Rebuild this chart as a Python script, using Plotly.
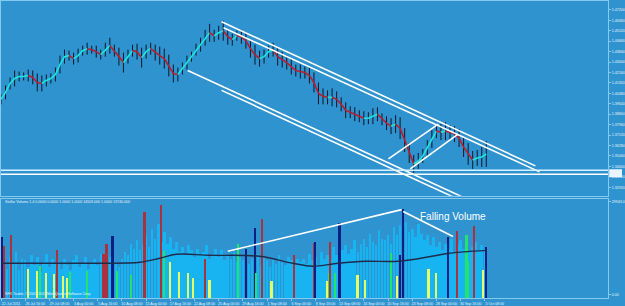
import plotly.graph_objects as go

BG = "#2E93CF"
FRAME = "#86C9EE"

# ---------------- data ----------------
# H4 bars, one price sample every 3 bars
price_step = 3
price = [1.4000, 1.4056, 1.4128, 1.4168, 1.4184, 1.4184, 1.4192, 1.4176, 1.4136, 1.4128,
         1.4152, 1.4168, 1.4200, 1.4280, 1.4344, 1.4352, 1.4328, 1.4352, 1.4392, 1.4408,
         1.4400, 1.4384, 1.4360, 1.4400, 1.4432, 1.4392, 1.4344, 1.4296, 1.4344, 1.4392,
         1.4384, 1.4336, 1.4384, 1.4408, 1.4376, 1.4352, 1.4328, 1.4272, 1.4208, 1.4200,
         1.4248, 1.4296, 1.4344, 1.4400, 1.4440, 1.4496, 1.4536, 1.4512, 1.4536, 1.4552,
         1.4504, 1.4480, 1.4512, 1.4504, 1.4472, 1.4408, 1.4360, 1.4328, 1.4344, 1.4384,
         1.4400, 1.4344, 1.4320, 1.4296, 1.4264, 1.4232, 1.4224, 1.4216, 1.4192, 1.4136,
         1.4048, 1.4024, 1.4016, 1.4016, 1.4000, 1.3960, 1.3912, 1.3896, 1.3880, 1.3864,
         1.3848, 1.3848, 1.3864, 1.3880, 1.3840, 1.3808, 1.3784, 1.3800, 1.3768, 1.3672,
         1.3568, 1.3480, 1.3504, 1.3544, 1.3608, 1.3680, 1.3744, 1.3736, 1.3744, 1.3736,
         1.3720, 1.3688, 1.3616, 1.3560, 1.3512, 1.3528, 1.3536, 1.3560]
wick = [0.0040, 0.0056, 0.0048, 0.0064, 0.0040, 0.0032, 0.0048, 0.0056, 0.0072, 0.0064,
        0.0048, 0.0040, 0.0056, 0.0072, 0.0056, 0.0040, 0.0048, 0.0056, 0.0040, 0.0048,
        0.0032, 0.0048, 0.0040, 0.0056, 0.0064, 0.0048, 0.0072, 0.0080, 0.0056, 0.0048,
        0.0064, 0.0080, 0.0056, 0.0048, 0.0064, 0.0072, 0.0080, 0.0088, 0.0072, 0.0056,
        0.0048, 0.0056, 0.0040, 0.0048, 0.0056, 0.0064, 0.0072, 0.0048, 0.0056, 0.0080,
        0.0064, 0.0048, 0.0040, 0.0056, 0.0064, 0.0072, 0.0080, 0.0064, 0.0056, 0.0048,
        0.0056, 0.0072, 0.0064, 0.0056, 0.0064, 0.0048, 0.0056, 0.0048, 0.0064, 0.0080,
        0.0088, 0.0064, 0.0056, 0.0072, 0.0064, 0.0056, 0.0064, 0.0048, 0.0056, 0.0048,
        0.0056, 0.0048, 0.0064, 0.0056, 0.0048, 0.0056, 0.0064, 0.0072, 0.0088, 0.0096,
        0.0080, 0.0072, 0.0064, 0.0056, 0.0064, 0.0072, 0.0056, 0.0064, 0.0072, 0.0056,
        0.0064, 0.0072, 0.0080, 0.0088, 0.0072, 0.0064, 0.0080, 0.0104]

# channel / trend lines drawn on the price pane: (bar0, price0, bar1, price1)
channel_lines = [
    (145.9, 1.4624, 353.5, 1.3464),
    (147.2, 1.4576, 356.2, 1.3416),
    (123.5, 1.4232, 322.0, 1.3120),
    (145.9, 1.4072, 322.0, 1.3086),
    (256.3, 1.3520, 289.2, 1.3800),
    (270.7, 1.3440, 302.3, 1.3720),
]
hlines = [1.3428, 1.3396]
hline_colors = ["#D6F1FF", "#FFFFFF"]

# volume, one bar every 2 H4 bars
vol_step = 2
vol = [11000, 13500, 9000, 12500, 10500, 14000, 8500, 12000, 11500, 9500,
       13000, 10000, 12500, 8000, 11000, 13500, 9500, 12000, 10500, 11000,
       9000, 12000, 10000, 8500, 11500, 13000, 9500, 10500, 12500, 9000,
       11000, 12000, 10000, 13500, 9500, 11500, 12500, 10000, 11000, 9500,
       12000, 14000, 13000, 16500, 15000, 17500, 14500, 16000, 19000, 15500,
       21000, 18000, 22500, 17000, 20000, 16500, 18500, 15000, 17000, 14000,
       15500, 13500, 16000, 14500, 12500, 15000, 13000, 14000, 16000, 12000,
       13500, 15000, 12500, 14500, 11500, 13000, 12000, 14000, 11000, 12500,
       11500, 13000, 10500, 12000, 11000, 13500, 10000, 12500, 11500, 9500,
       12000, 10500, 13000, 11000, 10000, 12500, 11500, 10500, 12000, 11000,
       12000, 10500, 13500, 11500, 12500, 10000, 14000, 12000, 13000, 11500,
       15500, 13000, 12000, 14500, 16000, 13500, 15000, 17500, 14000, 16500,
       18000, 15500, 19500, 17000, 16000, 20500, 18000, 17500, 19000, 16500,
       21500, 19000, 22000, 18500, 23000, 20000, 21000, 18500, 22500, 19500,
       17500, 19000, 16000, 18500, 15500, 17000, 14500, 16500, 15000, 18000,
       14000, 16000, 17500, 15000, 16500, 14000, 15500, 17000, 14500, 16000, 15000]

# highlighted volume bars: bar index, volume, kind
hi_idx = [1, 2, 7, 18, 24, 26, 30, 35, 37, 41, 44, 46, 57, 68, 70, 74, 77, 86, 95, 106,
          108, 112, 118, 124, 127, 135, 138, 157, 162, 168, 169, 173, 179, 194, 207, 208,
          216, 217, 218, 221, 224, 236, 241, 258, 262, 264, 266, 283, 288, 296, 302, 308,
          309, 313, 319, 321]
hi_vol = [18600, 15900, 19200, 9000, 8400, 9900, 7500, 7200, 14700, 6600, 6000, 8100, 8400,
          13500, 16500, 18900, 8400, 6900, 26100, 28200, 14400, 11100, 8100, 7500, 6000,
          12000, 5400, 16500, 15000, 21300, 7500, 24000, 5100, 13200, 16800, 17100, 5100,
          7500, 17100, 7500, 22800, 6900, 5400, 13800, 6600, 13200, 27000, 9000, 7800,
          18600, 20400, 19200, 11400, 21900, 8700, 15600]
hi_kind = ["b", "r", "r", "y", "y", "g", "y", "y", "r", "y", "y", "g", "g", "r", "r", "b",
           "g", "g", "r", "r", "g", "y", "y", "y", "y", "r", "y", "g", "b", "b", "g", "r",
           "y", "r", "r", "b", "y", "g", "r", "g", "b", "y", "y", "g", "y", "b", "b", "y",
           "y", "b", "r", "g", "g", "r", "y", "b"]
kind_color = {"r": "#A8323E", "b": "#0B1E86", "g": "#22E46A", "y": "#E2FF6A"}

# volume moving average
ma_idx = [0, 33, 66, 92, 105, 116, 138, 171, 193, 206, 223, 241, 263, 285, 296, 321]
ma_val = [10500, 10500, 10500, 10800, 12000, 13200, 12900, 12600, 10500, 9600,
          10500, 11100, 11100, 12600, 13500, 14400]

# trend lines on volume: (bar0, vol0, bar1, vol1)
vol_lines = [(150, 14100, 265, 26700), (266, 26100, 299, 18600)]

x_labels = ["22 Jul 2011", "26 Jul 16:00", "29 Jul 08:00", "3 Aug 00:00", "5 Aug 16:00",
            "10 Aug 08:00", "15 Aug 00:00", "17 Aug 16:00", "22 Aug 08:00", "25 Aug 00:00",
            "29 Aug 16:00", "1 Sep 08:00", "6 Sep 00:00", "8 Sep 16:00", "13 Sep 08:00",
            "16 Sep 00:00", "20 Sep 16:00", "23 Sep 08:00", "28 Sep 00:00", "30 Sep 16:00",
            "5 Oct 08:00"]
label_step = 16
price_ticks = [1.47200, 1.46360, 1.45520, 1.44680, 1.43840, 1.43000, 1.42160, 1.41320,
               1.40480, 1.39640, 1.38800, 1.37960, 1.37120, 1.36280, 1.35440, 1.34600,
               1.33760, 1.32920]

# ---------------- figure ----------------
fig = go.Figure()
px_x = [i * price_step for i in range(len(price))]

# candle wicks
fig.add_trace(go.Scatter(
    x=px_x, y=price, mode="markers", xaxis="x", yaxis="y",
    marker=dict(size=1, color="rgba(0,0,0,0)"),
    error_y=dict(type="data", array=wick, visible=True, color="#0A1726",
                 thickness=1, width=0),
    showlegend=False, hoverinfo="skip"))

# coloured price line (cyan rising, red falling)
runs = []
start = 0
def direction(i):
    return price[i + 1] >= price[i]
for i in range(1, len(price) - 1):
    if direction(i) != direction(start):
        runs.append((start, i, direction(start)))
        start = i
runs.append((start, len(price) - 1, direction(start)))
for a, b, up in runs:
    fig.add_trace(go.Scatter(
        x=px_x[a:b + 1], y=price[a:b + 1], mode="lines", xaxis="x", yaxis="y",
        line=dict(color="#1CE6E0" if up else "#B81E32", width=1.6),
        showlegend=False, hoverinfo="skip"))

for x0, y0, x1, y1 in channel_lines:
    fig.add_trace(go.Scatter(x=[x0, x1], y=[y0, y1], mode="lines", xaxis="x", yaxis="y",
                             line=dict(color="white", width=1.6),
                             showlegend=False, hoverinfo="skip"))

# volume bars
fig.add_trace(go.Bar(x=[k * vol_step for k in range(len(vol))], y=vol,
                     xaxis="x2", yaxis="y2", width=1.7,
                     marker=dict(color="#18B4F2", line=dict(width=0)),
                     showlegend=False, hoverinfo="skip"))
fig.add_trace(go.Bar(x=hi_idx, y=hi_vol, xaxis="x2", yaxis="y2", width=1.2,
                     marker=dict(color=[kind_color[k] for k in hi_kind], line=dict(width=0)),
                     showlegend=False, hoverinfo="skip"))
fig.add_trace(go.Scatter(x=ma_idx, y=ma_val, mode="lines", xaxis="x2", yaxis="y2",
                         line=dict(color="#1E2C4C", width=1.4, shape="spline"),
                         showlegend=False, hoverinfo="skip"))
for x0, y0, x1, y1 in vol_lines:
    fig.add_trace(go.Scatter(x=[x0, x1], y=[y0, y1], mode="lines", xaxis="x2", yaxis="y2",
                             line=dict(color="white", width=1.6),
                             showlegend=False, hoverinfo="skip"))

shapes = []
for h, c in zip(hlines, hline_colors):
    shapes.append(dict(type="line", xref="paper", yref="y", x0=0, x1=1.0, y0=h, y1=h,
                       line=dict(color=c, width=1.5)))
shapes.append(dict(type="rect", xref="paper", yref="y", x0=1.002, x1=1.023,
                   y0=1.3372, y1=1.3436, fillcolor="#EAF6FF", line=dict(width=0)))

xr = [0, 401.5]
small = dict(family="Liberation Sans, Arial", size=3.6, color="#EAF4FB")
fig.update_layout(
    width=625, height=306,
    margin=dict(l=0, r=14, t=0, b=6),
    paper_bgcolor=BG, plot_bgcolor=BG,
    barmode="overlay", bargap=0,
    showlegend=False,
    shapes=shapes,
    xaxis=dict(domain=[0, 1], range=xr, anchor="y", matches="x2", showticklabels=False,
               showgrid=False, zeroline=False, showline=True, mirror=True,
               linecolor=FRAME, linewidth=1, ticks=""),
    yaxis=dict(domain=[0.3433, 0.9967], range=[1.3224, 1.4792], side="right",
               tickvals=price_ticks, tickformat=".5f", tickfont=small,
               ticks="outside", ticklen=2, tickcolor=FRAME,
               showgrid=False, zeroline=False, showline=True, mirror=True,
               linecolor=FRAME, linewidth=1),
    xaxis2=dict(domain=[0, 1], range=xr, anchor="y2",
                tickvals=[k * label_step for k in range(len(x_labels))], ticktext=x_labels,
                tickfont=small, ticks="outside", ticklen=2, tickcolor=FRAME,
                ticklabelshift=10, ticklabelstandoff=0,
                showgrid=False, zeroline=False, showline=True, mirror=True,
                linecolor=FRAME, linewidth=1),
    yaxis2=dict(domain=[0, 0.3333], range=[0, 30000], side="right",
                tickvals=[29000, 1000], ticktext=["29943.0", "0.00"], tickfont=small,
                ticks="outside", ticklen=2, tickcolor=FRAME,
                showgrid=False, zeroline=False, showline=True, mirror=True,
                linecolor=FRAME, linewidth=1),
    annotations=[
        dict(text="Falling Volume", x=299, y=24600, xref="x2", yref="y2", showarrow=False,
             font=dict(family="Liberation Sans, Arial", size=10, color="white")),
        dict(text="Stellar Volume 1.4 0.0000 0.0000 1.0000 1.0000 14503.000 1.0000 13740.000",
             x=0.004, y=0.322, xref="paper", yref="paper", xanchor="left", yanchor="middle",
             showarrow=False, font=small),
        dict(text="SFX Trader, © 2001-2011 MetaQuotes Software Corp.",
             x=0.004, y=0.013, xref="paper", yref="paper", xanchor="left", yanchor="middle",
             showarrow=False, font=small),
    ],
)

fig.write_html("out.html")
